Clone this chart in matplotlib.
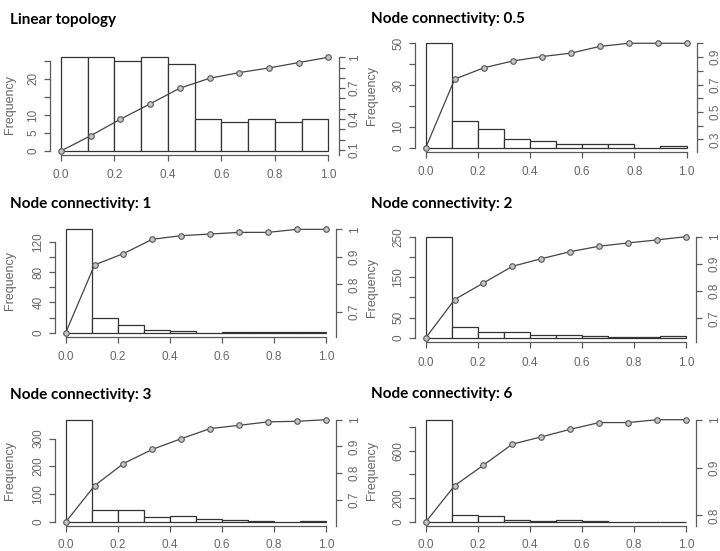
import matplotlib
matplotlib.use("Agg")
import matplotlib.pyplot as plt

# histogram bins and the x spots of the cumulative curve
bin_edges = [0.0, 0.1, 0.2, 0.3, 0.4, 0.5, 0.6, 0.7, 0.8, 0.9, 1.0]
cum_x = [0.0, 0.111, 0.222, 0.333, 0.444, 0.556, 0.667, 0.778, 0.889, 1.0]

titles = ["Linear topology", "Node connectivity: 0.5", "Node connectivity: 1",
          "Node connectivity: 2", "Node connectivity: 3", "Node connectivity: 6"]

# bar counts per panel
counts_linear = [26, 26, 25, 26, 24, 9, 8, 9, 8, 9]
counts_c05 = [50, 13, 9, 4, 3, 2, 2, 2, 0, 1]
counts_c1 = [137, 19, 10, 4, 2, 0, 1, 1, 1, 1]
counts_c2 = [250, 28, 15, 15, 8, 8, 4, 2, 2, 4]
counts_c3 = [368, 44, 42, 17, 22, 11, 6, 3, 0, 4]
counts_c6 = [860, 56, 50, 17, 11, 14, 5, 0, 0, 0]

# cumulative curve per panel (right axis)
cum_linear = [0.09, 0.238, 0.398, 0.547, 0.699, 0.796, 0.851, 0.896, 0.948, 1.0]
cum_c05 = [0.24, 0.739, 0.821, 0.871, 0.903, 0.928, 0.977, 1.0, 1.0, 1.0]
cum_c1 = [0.625, 0.871, 0.912, 0.964, 0.977, 0.983, 0.989, 0.989, 1.0, 1.0]
cum_c2 = [0.628, 0.769, 0.830, 0.891, 0.919, 0.945, 0.965, 0.977, 0.988, 1.0]
cum_c3 = [0.617, 0.753, 0.836, 0.889, 0.929, 0.967, 0.979, 0.992, 0.994, 1.0]
cum_c6 = [0.786, 0.862, 0.905, 0.949, 0.964, 0.980, 0.994, 0.994, 1.0, 1.0]

counts = [counts_linear, counts_c05, counts_c1, counts_c2, counts_c3, counts_c6]
cums = [cum_linear, cum_c05, cum_c1, cum_c2, cum_c3, cum_c6]

left_ticks = [[0, 5, 10, 15, 20, 25], [0, 10, 20, 30, 40, 50],
              [0, 20, 40, 60, 80, 100, 120], [0, 50, 100, 150, 200, 250],
              [0, 100, 200, 300], [0, 200, 400, 600, 800]]
left_labels = [["0", "5", "10", "", "20", ""], ["0", "10", "", "30", "", "50"],
               ["0", "", "40", "", "80", "", "120"], ["0", "50", "", "150", "", "250"],
               ["0", "100", "200", "300"], ["0", "200", "", "600", ""]]
right_ticks = [[0.1, 0.2, 0.3, 0.4, 0.5, 0.6, 0.7, 0.8, 0.9, 1.0],
               [0.3, 0.4, 0.5, 0.6, 0.7, 0.8, 0.9, 1.0],
               [0.7, 0.8, 0.9, 1.0], [0.7, 0.8, 0.9, 1.0],
               [0.7, 0.8, 0.9, 1.0], [0.8, 0.9, 1.0]]
right_labels = [["0.1", "", "", "0.4", "", "", "0.7", "", "", "1"],
                ["0.3", "", "0.5", "", "0.7", "", "0.9", ""],
                ["0.7", "0.8", "0.9", "1"], ["0.7", "0.8", "0.9", "1"],
                ["0.7", "0.8", "0.9", "1"], ["0.8", "0.9", "1"]]

# axes boxes in pixels: left, right, top, bottom
W, H = 720, 551
boxes = [(50.3, 339, 53.5, 154.7), (415.3, 697, 39.1, 151.9),
         (55.3, 336.4, 225.2, 336.8), (415.3, 696.4, 232.6, 342),
         (55.3, 336.4, 415.6, 526.1), (415.3, 696.4, 415.6, 526.1)]
title_pos = [(10, 20), (371, 19), (10, 204), (371, 204), (10, 395), (371, 394)]
ylab_x = [10, 372, 10, 372, 10, 372]

gray_txt = "#666666"
axis_col = "#5a5a5a"

fig = plt.figure(figsize=(7.2, 5.51), dpi=100)
fig.patch.set_facecolor("white")

for i in range(6):
    l, r, t, b = boxes[i]
    ax = fig.add_axes([l / W, 1 - b / H, (r - l) / W, (b - t) / H])
    c = counts[i]
    m = max(c)
    ax.bar(bin_edges[:-1], c, width=0.1, align="edge", color="white",
           edgecolor="#333333", linewidth=0.9)
    ax.set_xlim(-0.04, 1.04)
    ax.set_ylim(-0.04 * m, 1.04 * m)
    for s in ["top", "right"]:
        ax.spines[s].set_visible(False)
    ax.spines["left"].set_bounds(0, left_ticks[i][-1])
    ax.spines["bottom"].set_bounds(0, 1)
    for s in ["left", "bottom"]:
        ax.spines[s].set_color(axis_col)
        ax.spines[s].set_linewidth(0.9)
    ax.set_xticks([0, 0.2, 0.4, 0.6, 0.8, 1.0])
    ax.set_xticklabels(["0.0", "0.2", "0.4", "0.6", "0.8", "1.0"])
    ax.set_yticks(left_ticks[i])
    ax.set_yticklabels(left_labels[i], rotation=90, va="center")
    ax.tick_params(axis="x", length=4, width=0.9, color=axis_col,
                   pad=5 if i >= 4 else 6.5, labelsize=8.5, labelcolor=gray_txt)
    ax.tick_params(axis="y", length=4, width=0.9, color=axis_col, pad=4,
                   labelsize=8.5, labelcolor=gray_txt)
    for lab in ax.get_xticklabels() + ax.get_yticklabels():
        lab.set_family("Liberation Sans")

    cv = cums[i]
    lo, hi = min(cv), max(cv)
    tw = ax.twinx()
    tw.set_ylim(lo - 0.04 * (hi - lo), hi + 0.04 * (hi - lo))
    tw.plot(cum_x, cv, color="#444444", linewidth=0.9, marker="o",
            markersize=4, markerfacecolor="#c4c4c4", markeredgecolor="#555555",
            markeredgewidth=0.8)
    for s in ["top", "left", "bottom"]:
        tw.spines[s].set_visible(False)
    tw.spines["right"].set_bounds(lo - 0.04 * (hi - lo), 1.0)
    tw.spines["right"].set_color(axis_col)
    tw.spines["right"].set_linewidth(0.9)
    tw.set_yticks(right_ticks[i])
    tw.set_yticklabels(right_labels[i], rotation=90, va="center")
    tw.tick_params(axis="y", length=4, width=0.9, color=axis_col,
                   pad=3 if i == 0 else 5, labelsize=8.5, labelcolor=gray_txt)
    for lab in tw.get_yticklabels():
        lab.set_family("Liberation Sans")

    fig.text(ylab_x[i] / W, 1 - ((t + b) / 2) / H, "Frequency", rotation=90,
             ha="center", va="center", fontsize=9, color=gray_txt,
             family="Liberation Sans")
    tx, ty = title_pos[i]
    fig.text(tx / W, 1 - ty / H, titles[i], ha="left", va="center",
             fontsize=11, fontweight="bold", family="Lato", color="black")

fig.savefig("out.png", dpi=100)
